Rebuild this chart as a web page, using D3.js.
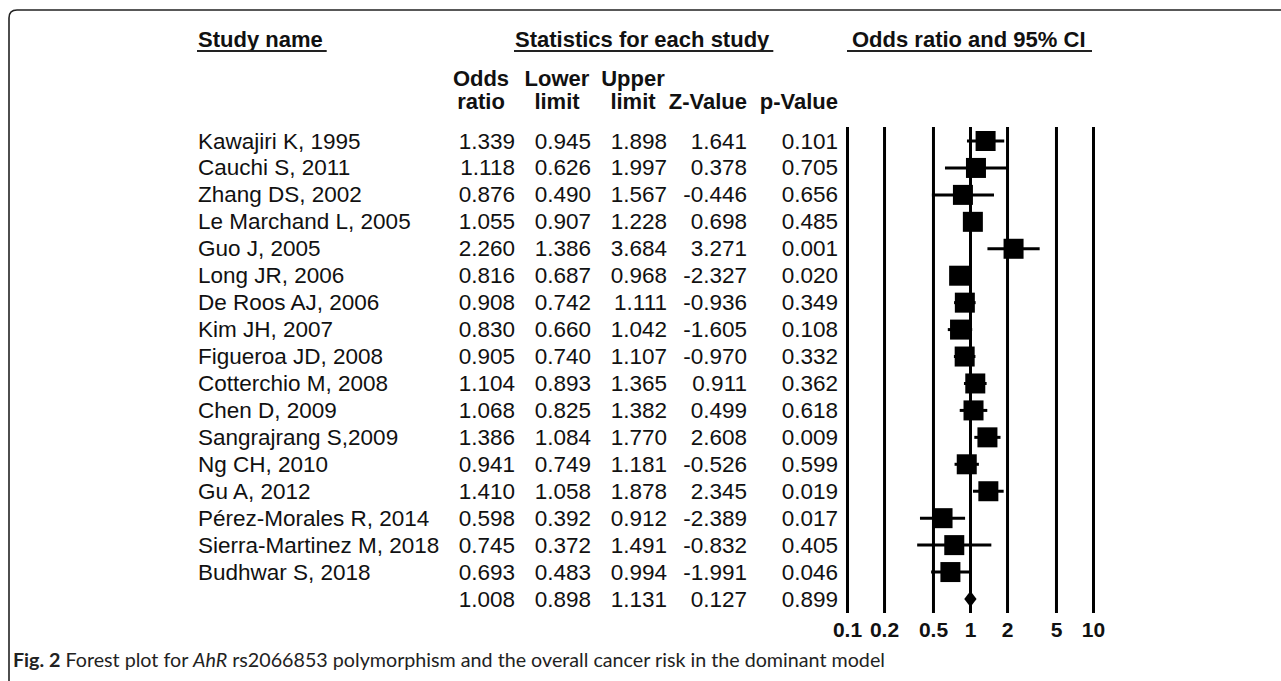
<!DOCTYPE html>
<html>
<head>
<meta charset="utf-8">
<script src="https://cdn.jsdelivr.net/npm/d3@7"></script>
<style>
  body { margin: 0; background: #fff; }
  svg text { font-family: "Liberation Sans", Arial, sans-serif; fill: #111; }
</style>
</head>
<body>
<script>
// study rows
const studies = ['Kawajiri K, 1995', 'Cauchi S, 2011', 'Zhang DS, 2002', 'Le Marchand L, 2005',
  'Guo J, 2005', 'Long JR, 2006', 'De Roos AJ, 2006', 'Kim JH, 2007', 'Figueroa JD, 2008',
  'Cotterchio M, 2008', 'Chen D, 2009', 'Sangrajrang S,2009', 'Ng CH, 2010', 'Gu A, 2012',
  'Pérez-Morales R, 2014', 'Sierra-Martinez M, 2018', 'Budhwar S, 2018'];
const oddsRatio = [1.339, 1.118, 0.876, 1.055, 2.260, 0.816, 0.908, 0.830, 0.905, 1.104, 1.068, 1.386, 0.941, 1.410, 0.598, 0.745, 0.693];
const lowerLimit = [0.945, 0.626, 0.490, 0.907, 1.386, 0.687, 0.742, 0.660, 0.740, 0.893, 0.825, 1.084, 0.749, 1.058, 0.392, 0.372, 0.483];
const upperLimit = [1.898, 1.997, 1.567, 1.228, 3.684, 0.968, 1.111, 1.042, 1.107, 1.365, 1.382, 1.770, 1.181, 1.878, 0.912, 1.491, 0.994];
const zValue = [1.641, 0.378, -0.446, 0.698, 3.271, -2.327, -0.936, -1.605, -0.970, 0.911, 0.499, 2.608, -0.526, 2.345, -2.389, -0.832, -1.991];
const pValue = [0.101, 0.705, 0.656, 0.485, 0.001, 0.020, 0.349, 0.108, 0.332, 0.362, 0.618, 0.009, 0.599, 0.019, 0.017, 0.405, 0.046];

// pooled estimate (last row)
const pooled = [1.008, 0.898, 1.131, 0.127, 0.899];

const tickValues = [0.1, 0.2, 0.5, 1, 2, 5, 10];
const tickLabels = ['0.1', '0.2', '0.5', '1', '2', '5', '10'];

const width = 1281, height = 681;

const svg = d3.select('body')
  .append('svg')
  .attr('width', width)
  .attr('height', height);

// figure frame (top + left, rounded corner)
svg.append('path')
  .attr('d', 'M9,681 V18 Q9,10 17,10 H1281')
  .attr('fill', 'none')
  .attr('stroke', '#222')
  .attr('stroke-width', 1.6);

const xScale = d3.scaleLog()
  .domain([0.1, 10])
  .range([847, 1093]);

const rowY = d3.scaleLinear()
  .domain([0, studies.length])
  .range([141, 599]);

// section headers, underlined
const headers = [
  {text: 'Study name', x: 198},
  {text: 'Statistics for each study', x: 515},
  {text: 'Odds ratio and 95% CI', x: 852}
];
headers.forEach(h => {
  const t = svg.append('text')
    .attr('x', h.x)
    .attr('y', 47)
    .attr('font-size', 22)
    .attr('font-weight', 'bold')
    .text(h.text);
  const len = t.node().getComputedTextLength();
  let x1 = h.x - 1, x2 = h.x + len + 4;
  if (h.text.startsWith('Odds')) { x1 = xScale(0.1); x2 = xScale(10) - 1; }
  svg.append('line')
    .attr('x1', x1).attr('x2', x2)
    .attr('y1', 51).attr('y2', 51)
    .attr('stroke', '#222')
    .attr('stroke-width', 2);
});

// statistic columns (right edge of numbers)
const columns = [
  {top: 'Odds', bottom: 'ratio', right: 515, values: oddsRatio},
  {top: 'Lower', bottom: 'limit', right: 591, values: lowerLimit},
  {top: 'Upper', bottom: 'limit', right: 667, values: upperLimit},
  {top: '', bottom: 'Z-Value', right: 747, values: zValue},
  {top: '', bottom: 'p-Value', right: 838, values: pValue}
];

columns.forEach((c, k) => {
  const center = c.right - 34;
  svg.append('text')
    .attr('x', center).attr('y', 86)
    .attr('text-anchor', 'middle')
    .attr('font-size', 22)
    .attr('font-weight', 'bold')
    .text(c.top);
  svg.append('text')
    .attr('x', k < 3 ? center : c.right)
    .attr('y', 109)
    .attr('text-anchor', k < 3 ? 'middle' : 'end')
    .attr('font-size', 22)
    .attr('font-weight', 'bold')
    .text(c.bottom);

  svg.selectAll('.col' + k)
    .data(c.values.concat([pooled[k]]))
    .enter()
    .append('text')
    .attr('class', 'col' + k)
    .attr('x', c.right)
    .attr('y', (d, i) => rowY(i) + 7.5)
    .attr('text-anchor', 'end')
    .attr('font-size', 22.5)
    .text(d => d.toFixed(3));
});

svg.selectAll('.name')
  .data(studies)
  .enter()
  .append('text')
  .attr('class', 'name')
  .attr('x', 198)
  .attr('y', (d, i) => rowY(i) + 7.5)
  .attr('font-size', 22.5)
  .text(d => d);

// vertical reference lines + labels
const axis = svg.append('g')
  .attr('transform', 'translate(0, 613)')
  .call(d3.axisBottom(xScale)
    .tickValues(tickValues)
    .tickFormat((d, i) => tickLabels[i])
    .tickSizeInner(-(613 - 127))
    .tickSizeOuter(0)
    .tickPadding(9));
axis.select('.domain').remove();
axis.selectAll('.tick line')
  .attr('stroke', '#000')
  .attr('stroke-width', 3);
axis.selectAll('.tick text')
  .attr('font-size', 21)
  .attr('font-weight', 'bold')
  .attr('font-family', '"Liberation Sans", Arial, sans-serif')
  .attr('fill', '#111');

// confidence intervals
svg.selectAll('.ci')
  .data(studies)
  .enter()
  .append('line')
  .attr('class', 'ci')
  .attr('x1', (d, i) => xScale(lowerLimit[i]))
  .attr('x2', (d, i) => xScale(upperLimit[i]))
  .attr('y1', (d, i) => rowY(i))
  .attr('y2', (d, i) => rowY(i))
  .attr('stroke', '#000')
  .attr('stroke-width', 3);

const box = 20;
svg.selectAll('.box')
  .data(studies)
  .enter()
  .append('rect')
  .attr('class', 'box')
  .attr('x', (d, i) => xScale(oddsRatio[i]) - box / 2)
  .attr('y', (d, i) => rowY(i) - box / 2)
  .attr('width', box)
  .attr('height', box)
  .attr('fill', '#000');

// pooled diamond
const py = rowY(studies.length);
svg.append('path')
  .attr('d', `M${xScale(pooled[1])},${py} L${xScale(pooled[0])},${py - 8} L${xScale(pooled[2])},${py} L${xScale(pooled[0])},${py + 8} Z`)
  .attr('fill', '#000');

// caption
const cap = svg.append('text')
  .attr('x', 13)
  .attr('y', 667)
  .attr('font-size', 19.7)
  .style('font-family', 'Lato, "Open Sans", sans-serif')
  .style('fill', '#222');
cap.append('tspan').attr('font-weight', 'bold').text('Fig. 2');
cap.append('tspan').text(' Forest plot for ');
cap.append('tspan').attr('font-style', 'italic').text('AhR');
cap.append('tspan').text(' rs2066853 polymorphism and the overall cancer risk in the dominant model');
</script>
</body>
</html>
